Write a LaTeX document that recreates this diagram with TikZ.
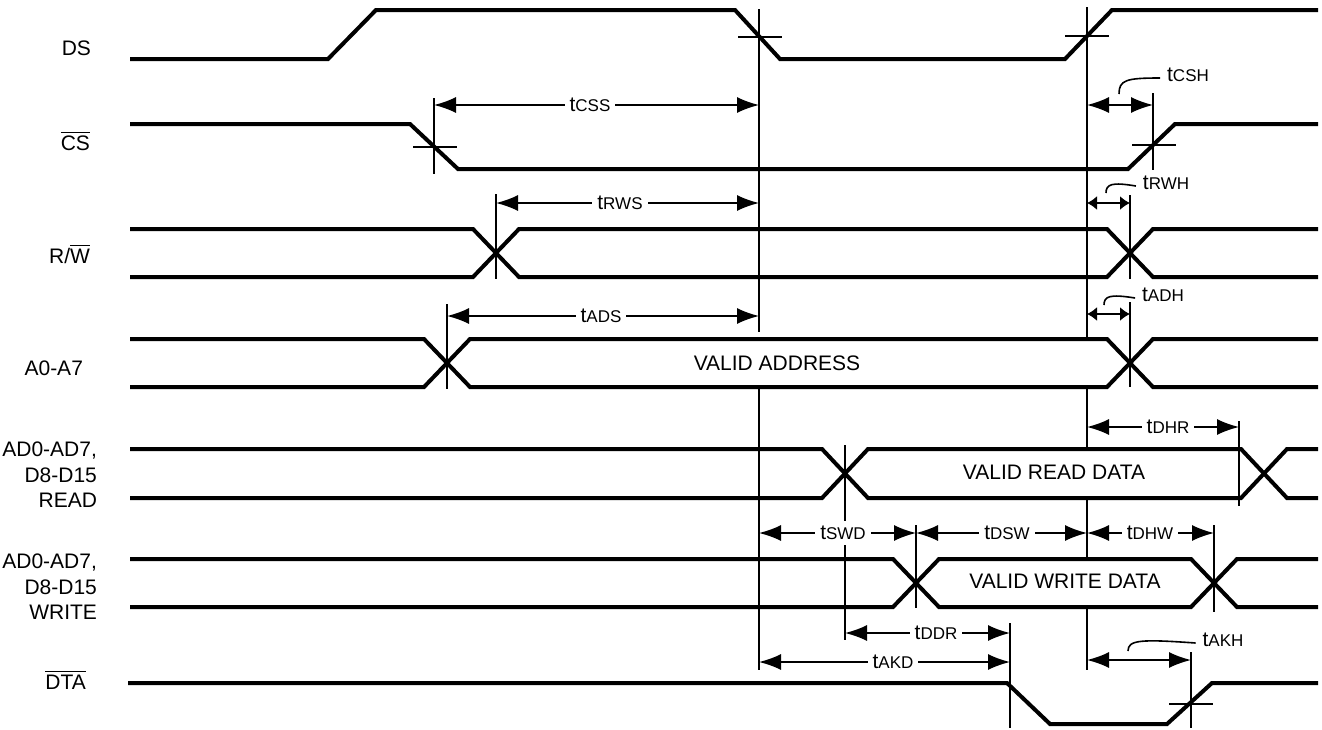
\documentclass[tikz,border=0pt]{standalone}
\usepackage{fontspec}
\setmainfont{Liberation Sans}
\usetikzlibrary{arrows.meta}
\tikzset{
	sig/.style={line width=2pt},
	thin/.style={line width=0.8pt},
	dim/.style={thin, {Latex[length=11pt,width=8pt]}-{Latex[length=11pt,width=8pt]}},
	dimsmall/.style={thin, {Latex[length=5pt,width=7pt]}-{Latex[length=5pt,width=7pt]}},
	tlab/.style={fill=white, inner sep=2.5pt},
	signame/.style={anchor=base east}
}
\newcommand{\tm}[1]{t{\fontsize{8.5}{9}\selectfont #1}}
\newcommand{\ovl}[1]{$\overline{\mbox{#1}}$}
\newcommand{\bus}[4]{\draw[sig] (130,#1) -- (#3-23,#1) -- (#3+23,#2) -- (#4-23,#2) -- (#4+23,#1) -- (1318,#1);
	\draw[sig] (130,#2) -- (#3-23,#2) -- (#3+23,#1) -- (#4-23,#1) -- (#4+23,#2) -- (1318,#2)}
\newcommand{\vtick}[3]{\draw[thin] (#1,#2) -- (#1,#3)}
\newcommand{\htick}[2]{\draw[thin] (#1-22,#2) -- (#1+22,#2)}

\begin{document}
\begin{tikzpicture}[x=0.5pt, y=-0.5pt, font=\fontsize{10.5}{12.75}\selectfont]
\useasboundingbox (0,0) rectangle (1322,729);
%Signal names
	\node[signame] (nds) at (98,55) {DS};
	\node[signame] (ncs) at (97,150) {\ovl{CS}};
	\node[signame] (nrw) at (97,263) {R/\ovl{W}};
	\node[signame] (na) at (90,375) {A0-A7};
	\node[anchor=east, align=right] (nrd) at (104,475) {AD0-AD7,\\D8-D15\\READ};
	\node[anchor=east, align=right] (nwr) at (104,587) {AD0-AD7,\\D8-D15\\WRITE};
	\node[signame] (ndta) at (93,689) {\ovl{DTA}};
%Waveforms
	\draw[sig] (130,59) -- (328,59) -- (376,10) -- (735,10) -- (780,59) -- (1065,59) -- (1112,10) -- (1318,10);
	\draw[sig] (130,124) -- (410,124) -- (458,169) -- (1128,169) -- (1175,124) -- (1318,124);
	\bus{229}{277}{496}{1130};
	\bus{339}{387}{447}{1130};
	\bus{449}{498}{845}{1264};
	\bus{559}{607}{916}{1214};
	\draw[sig] (128,683) -- (1007,683) -- (1050,724) -- (1167,724) -- (1212,683) -- (1318,683);
%Bus contents
	\node (vaddr) at (777,363) {VALID ADDRESS};
	\node (vread) at (1054,472) {VALID READ DATA};
	\node (vwrite) at (1065,581) {VALID WRITE DATA};
%Reference lines
	\vtick{759}{9}{332};
	\vtick{759}{388}{670};
	\htick{760}{37};
	\vtick{1087}{7}{339};
	\vtick{1087}{387}{449};
	\vtick{1087}{498}{559};
	\vtick{1087}{607}{670};
	\htick{1087}{36};
%Edge marks
	\vtick{434}{98}{174};
	\htick{435}{147};
	\vtick{1153}{93}{170};
	\htick{1154}{145};
	\vtick{496}{194}{279};
	\vtick{1130}{195}{279};
	\vtick{447}{304}{389};
	\vtick{1130}{302}{387};
	\vtick{845}{445}{640};
	\vtick{1239}{421}{506};
	\vtick{916}{525}{608};
	\vtick{1214}{525}{612};
	\vtick{1010}{623}{728};
	\vtick{1191}{652}{728};
	\htick{1191}{704};
%Setup and hold times
	\draw[dim] (434,105) -- (759,105);
	\node[tlab] (tcss) at (590,105) {\tm{CSS}};
	\draw[dim] (496,203) -- (759,203);
	\node[tlab] (trws) at (620,203) {\tm{RWS}};
	\draw[dim] (447,316) -- (759,316);
	\node[tlab] (tads) at (601,316) {\tm{ADS}};
	\draw[dim] (1087,427) -- (1239,427);
	\node[tlab] (tdhr) at (1168,427) {\tm{DHR}};
	\draw[dim] (759,533) -- (916,533);
	\node[tlab] (tswd) at (843,533) {\tm{SWD}};
	\draw[dim] (916,533) -- (1087,533);
	\node[tlab] (tdsw) at (1007,533) {\tm{DSW}};
	\draw[dim] (1087,533) -- (1214,533);
	\node[tlab] (tdhw) at (1150,533) {\tm{DHW}};
	\draw[dim] (845,633) -- (1010,633);
	\node[tlab] (tddr) at (936,633) {\tm{DDR}};
	\draw[dim] (759,662) -- (1010,662);
	\node[tlab] (takd) at (893,662) {\tm{AKD}};
%Short intervals with leaders
	\draw[dim] (1087,105) -- (1153,105);
	\node (tcsh) at (1188,75) {\tm{CSH}};
	\coordinate (lcsh) at (1119,94);
	\draw[thin] (lcsh) .. controls (1119,80) and (1126,78) .. ([yshift=-1.5pt]tcsh.west);
	\draw[dimsmall] (1087,203) -- (1130,203);
	\node (trwh) at (1166,183) {\tm{RWH}};
	\coordinate (lrwh) at (1106,193);
	\draw[thin] (lrwh) .. controls (1106,184) and (1112,182) .. ([yshift=-1.5pt]trwh.west);
	\draw[dimsmall] (1087,314) -- (1130,314);
	\node (tadh) at (1163,295) {\tm{ADH}};
	\coordinate (ladh) at (1104,305);
	\draw[thin] (ladh) .. controls (1104,296) and (1110,294) .. ([yshift=-1.5pt]tadh.west);
	\draw[dim] (1087,660) -- (1191,660);
	\node (takh) at (1223,640) {\tm{AKH}};
	\coordinate (lakh) at (1128,651);
	\draw[thin] (lakh) .. controls (1128,640) and (1140,639) .. ([yshift=-1.5pt]takh.west);
\end{tikzpicture}
\end{document}
